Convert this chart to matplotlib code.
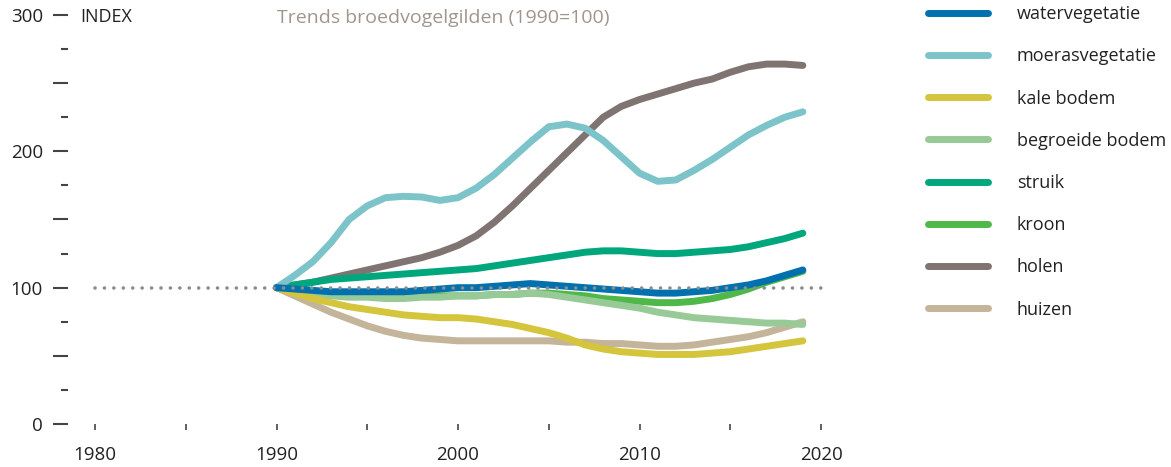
import matplotlib
matplotlib.use("Agg")
import matplotlib.pyplot as plt
from matplotlib.ticker import FixedLocator, MultipleLocator, FuncFormatter
import numpy as np

years = list(range(1990, 2020))

watervegetatie = [100, 99, 98, 97, 97, 97, 97, 97, 98, 99, 100, 100, 101, 102, 103, 102, 101, 100, 99, 98,
                  97, 96, 96, 97, 98, 100, 102, 105, 109, 113]
moerasvegetatie = [100, 109, 119, 133, 150, 160, 166, 167, 166.5, 164, 166, 173, 183, 195, 207, 218, 220, 217, 208, 196,
                   184, 178, 179, 186, 194, 203, 212, 219, 225, 229]
kale_bodem = [100, 96, 92, 89, 86, 84, 82, 80, 79, 78, 78, 77, 75, 73, 70, 67, 63, 58, 55, 53,
              52, 51, 51, 51, 52, 53, 55, 57, 59, 61]
begroeide_bodem = [100, 97, 95, 94, 93, 93, 92, 92, 93, 93, 94, 94, 95, 95, 96, 95, 93, 91, 89, 87,
                   85, 82, 80, 78, 77, 76, 75, 74, 74, 73]
struik = [100, 102, 104, 106, 107, 108, 109, 110, 111, 112, 113, 114, 116, 118, 120, 122, 124, 126, 127, 127,
          126, 125, 125, 126, 127, 128, 130, 133, 136, 140]
kroon = [100, 98, 96, 95, 94, 94, 94, 94, 94, 94, 94, 94, 95, 95, 96, 96, 95, 94, 92, 91,
         90, 89, 89, 90, 92, 95, 99, 104, 108, 112]
holen = [100, 102, 104, 107, 110, 113, 116, 119, 122, 126, 131, 138, 148, 160, 173, 186, 199, 212, 225, 233,
         238, 242, 246, 250, 253, 258, 262, 264, 264, 263]
huizen = [100, 94, 88, 82, 77, 72, 68, 65, 63, 62, 61, 61, 61, 61, 61, 61, 60, 60, 59, 59,
          58, 57, 57, 58, 60, 62, 64, 67, 71, 75]

series_names = ["watervegetatie", "moerasvegetatie", "kale bodem", "begroeide bodem",
                "struik", "kroon", "holen", "huizen"]
series_values = [watervegetatie, moerasvegetatie, kale_bodem, begroeide_bodem,
                 struik, kroon, holen, huizen]
series_colors = ["#0071AE", "#7CC4C9", "#D4C53C", "#97CA97",
                 "#00A77D", "#4FB848", "#7F7472", "#C4B49A"]

reference_x = [1980, 2020]
reference_y = [100, 100]

x_ticks_major = [1980, 1990, 2000, 2010, 2020]
y_tick_labels = [0, 100, 200, 300]

FONT = ["Open Sans", "DejaVu Sans"]
plt.rcParams["font.family"] = FONT
plt.rcParams["font.weight"] = "medium"

W, H = 1171, 467
fig = plt.figure(figsize=(W / 100, H / 100), dpi=100)
ax = fig.add_axes([95 / W, 43 / H, (821 - 95) / W, (424 - 15) / H])
ax.set_xlim(1980, 2020)
ax.set_ylim(0, 300)

# draw in reverse legend order so that the first series is on top
n = len(series_names)
handles = [None] * n
for i in reversed(range(n)):
    (ln,) = ax.plot(years, series_values[i], color=series_colors[i], lw=5,
                    solid_capstyle="round", solid_joinstyle="round",
                    clip_on=False, zorder=2 + (n - i))
    handles[i] = ln

ax.plot(reference_x, reference_y, color="#8C8C8C", lw=2.6,
        linestyle=(0, (0.01, 2.6)), dash_capstyle="round", zorder=20, clip_on=False)

for s in ["top", "right", "bottom", "left"]:
    ax.spines[s].set_visible(False)
ax.spines["left"].set_position(("outward", 27 * 0.72))

ax.yaxis.set_major_locator(MultipleLocator(50))
ax.yaxis.set_minor_locator(MultipleLocator(25))
ax.yaxis.set_major_formatter(FuncFormatter(lambda v, p: f"{int(v)}" if int(v) in y_tick_labels else ""))
ax.tick_params(axis="y", which="major", direction="out", length=11, width=1.5,
               color="#444444", labelsize=13.5, labelcolor="#222222", pad=7)
ax.tick_params(axis="y", which="minor", direction="out", length=5, width=1.5, color="#444444")

ax.xaxis.set_major_locator(FixedLocator(x_ticks_major))
ax.xaxis.set_minor_locator(MultipleLocator(5))
ax.tick_params(axis="x", which="major", direction="out", length=4.5, width=1.2,
               color="#444444", labelsize=13.5, labelcolor="#222222", pad=11)
ax.tick_params(axis="x", which="minor", direction="out", length=4.5, width=1.2, color="#444444")

fig.text(80 / W, 1 - 17 / H, "INDEX", fontsize=13, color="#222222", va="center", ha="left")
fig.text(277 / W, 1 - 18 / H, "Trends broedvogelgilden (1990=100)", fontsize=14,
         color="#A0968F", va="center", ha="left")

leg = fig.legend(handles=handles, labels=series_names, loc="upper left",
                 bbox_to_anchor=(921 / W, 1 - (-2) / H), frameon=False,
                 fontsize=13, handlelength=3.3, handletextpad=1.6,
                 labelspacing=1.34, borderaxespad=0)
for t in leg.get_texts():
    t.set_color("#222222")
for lh in leg.get_lines():
    lh.set_linewidth(5)
    lh.set_solid_capstyle("round")

fig.savefig("out.png", dpi=100)
